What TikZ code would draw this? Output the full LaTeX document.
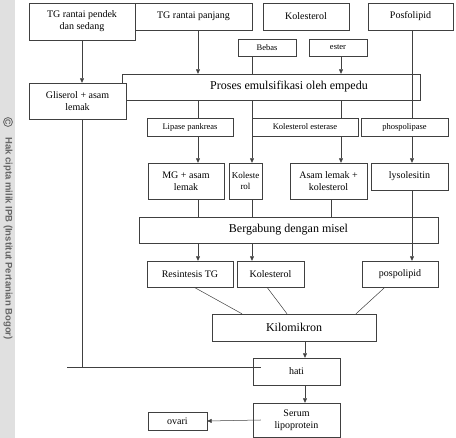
\documentclass[tikz,border=0pt]{standalone}
\usepackage{fontspec}
\setmainfont{Liberation Serif}
\newfontfamily\wmfont{Liberation Sans}
\usetikzlibrary{positioning,calc,arrows.meta}

\begin{document}
\begin{tikzpicture}[x=1pt,y=-1pt,
    box/.style={draw=black!75, rectangle, fill=white, inner sep=1pt, align=center, font=\fontsize{10}{12}\selectfont},
    kecil/.style={box, font=\fontsize{8.5}{10}\selectfont},
    besar/.style={box, font=\fontsize{12}{14}\selectfont},
    garis/.style={draw=black!75, line width=0.5pt},
    >={Triangle[length=4.5pt,width=4pt]}]
    \useasboundingbox (0,0) rectangle (456,438);

    % hak cipta
    \fill[black!12] (0,0) rectangle (15,438);
    \node [circle, draw=black!60, line width=0.8pt, inner sep=0.5pt, text=black!60, font=\wmfont\bfseries\fontsize{7.5}{8}\selectfont, rotate=-90] (cc) at (8,122) {C};
    \node [text=black!60, font=\wmfont\bfseries\fontsize{9.5}{11}\selectfont, rotate=-90, anchor=west] (wm) at (8,134) {Hak cipta milik IPB (Institut Pertanian Bogor)};

    % baris atas
    \node [box, minimum width=106, minimum height=37] (tgpendek) at (82,21.5) {TG rantai pendek\\dan sedang};
    \node [box, minimum width=117, minimum height=27] (tgpanjang) at (193.5,16.5) {TG rantai panjang};
    \node [box, minimum width=86, minimum height=27] (kolatas) at (306,16.5) {Kolesterol};
    \node [box, minimum width=85, minimum height=27] (posfo) at (410.5,16.5) {Posfolipid};

    % bebas / ester
    \node [kecil, minimum width=58, minimum height=17] (bebas) at (267,47.5) {Bebas};
    \node [kecil, minimum width=58, minimum height=17] (ester) at (338,47.5) {ester};

    % emulsifikasi
    \node [besar, minimum width=298, minimum height=26] (proses) at (271,87) {\hspace*{36pt}Proses emulsifikasi oleh empedu};
    \node [box, minimum width=97, minimum height=36] (gliserol) at (77.5,101) {Gliserol + asam\\lemak};

    % enzim
    \node [kecil, minimum width=86, minimum height=18] (lipase) at (190,127) {Lipase pankreas};
    \node [kecil, minimum width=106, minimum height=18] (esterase) at (305,127) {Kolesterol esterase};
    \node [kecil, minimum width=87, minimum height=18] (phospo) at (404.5,127) {phospolipase};

    % hasil hidrolisis
    \node [box, minimum width=76, minimum height=36] (mg) at (186,181) {MG + asam\\lemak};
    \node [box, minimum width=33, minimum height=36, font=\fontsize{9}{11.5}\selectfont] (kolrol) at (245.5,181) {Koleste\\rol};
    \node [box, minimum width=77, minimum height=36] (asam) at (328.5,181) {Asam lemak +\\kolesterol};
    \node [box, minimum width=77, minimum height=27] (lyso) at (409.5,176.5) {lysolesitin};

    % misel
    \node [besar, minimum width=299, minimum height=26] (misel) at (288.5,230) {Bergabung dengan misel};

    % resintesis
    \node [box, minimum width=86, minimum height=26] (resintesis) at (190,274) {Resintesis TG};
    \node [box, minimum width=67, minimum height=26] (kolbawah) at (270.5,274) {Kolesterol};
    \node [box, minimum width=76, minimum height=26] (pospo) at (400,274) {pospolipid};

    % kilomikron, hati, serum
    \node [besar, minimum width=164, minimum height=27] (kilo) at (294,327.5) {Kilomikron};
    \node [box, minimum width=87, minimum height=27] (hati) at (296.5,371.5) {hati};
    \node [box, minimum width=87, minimum height=34] (serum) at (296.5,420) {Serum\\lipoprotein};
    \node [box, minimum width=59, minimum height=18] (ovari) at (177.5,421) {ovari};

    % kolom garis
    \coordinate (ka) at (198,0);
    \coordinate (kb) at (252,0);
    \coordinate (kc) at (341,0);
    \coordinate (kd) at (412,0);
    \coordinate (ke) at (305,0);
    \coordinate (ujung) at (67,367);

    \draw [garis,->] (tgpendek) -- (tgpendek |- gliserol.north);
    \draw [garis] (tgpendek |- gliserol.south) -- (tgpendek |- ujung);
    \draw [garis] (ujung) -- ([xshift=8pt]ujung -| hati.west);

    \draw [garis,->] (tgpanjang.south -| ka) -- (proses.north -| ka);
    \draw [garis] (proses.south -| ka) -- (lipase.north -| ka);
    \draw [garis,->] (lipase.south -| ka) -- (mg.north -| ka);
    \draw [garis] (mg.south -| ka) -- (misel.north -| ka);
    \draw [garis,->] (misel.south -| ka) -- (resintesis.north -| ka);

    \draw [garis] (bebas.south -| kb) -- (proses.north -| kb);
    \draw [garis,->] (proses.south -| kb) -- (kolrol.north -| kb);
    \draw [garis] (kolrol.south -| kb) -- (misel.north -| kb);
    \draw [garis,->] (misel.south -| kb) -- (kolbawah.north -| kb);

    \draw [garis,->] (ester.south -| kc) -- (proses.north -| kc);
    \draw [garis] (proses.south -| kc) -- (esterase.north -| kc);
    \draw [garis,->] (esterase.south -| kc) -- (asam.north -| kc);
    \draw [garis] ([xshift=2.5pt]asam.south) -- ([xshift=2.5pt]asam.south |- misel.north);

    \draw [garis] (posfo.south -| kd) -- (phospo.north -| kd);
    \draw [garis,->] (phospo.south -| kd) -- (lyso.north -| kd);
    \draw [garis,->] (lyso.south -| kd) -- (pospo.north -| kd);

    \draw [garis] ([xshift=4pt]resintesis.south) -- ([xshift=-52pt]kilo.north);
    \draw [garis] ([xshift=-3.5pt]kolbawah.south) -- ([xshift=-7pt]kilo.north);
    \draw [garis] ([xshift=-15pt]pospo.south) -- ([xshift=62pt]kilo.north);

    \draw [garis,->] (kilo.south -| ke) -- (hati.north -| ke);
    \draw [garis,->] (hati.south -| ke) -- (serum.north -| ke);
    \draw [garis,->] ([xshift=8pt]serum.west) -- (ovari.east);

\end{tikzpicture}
\end{document}
